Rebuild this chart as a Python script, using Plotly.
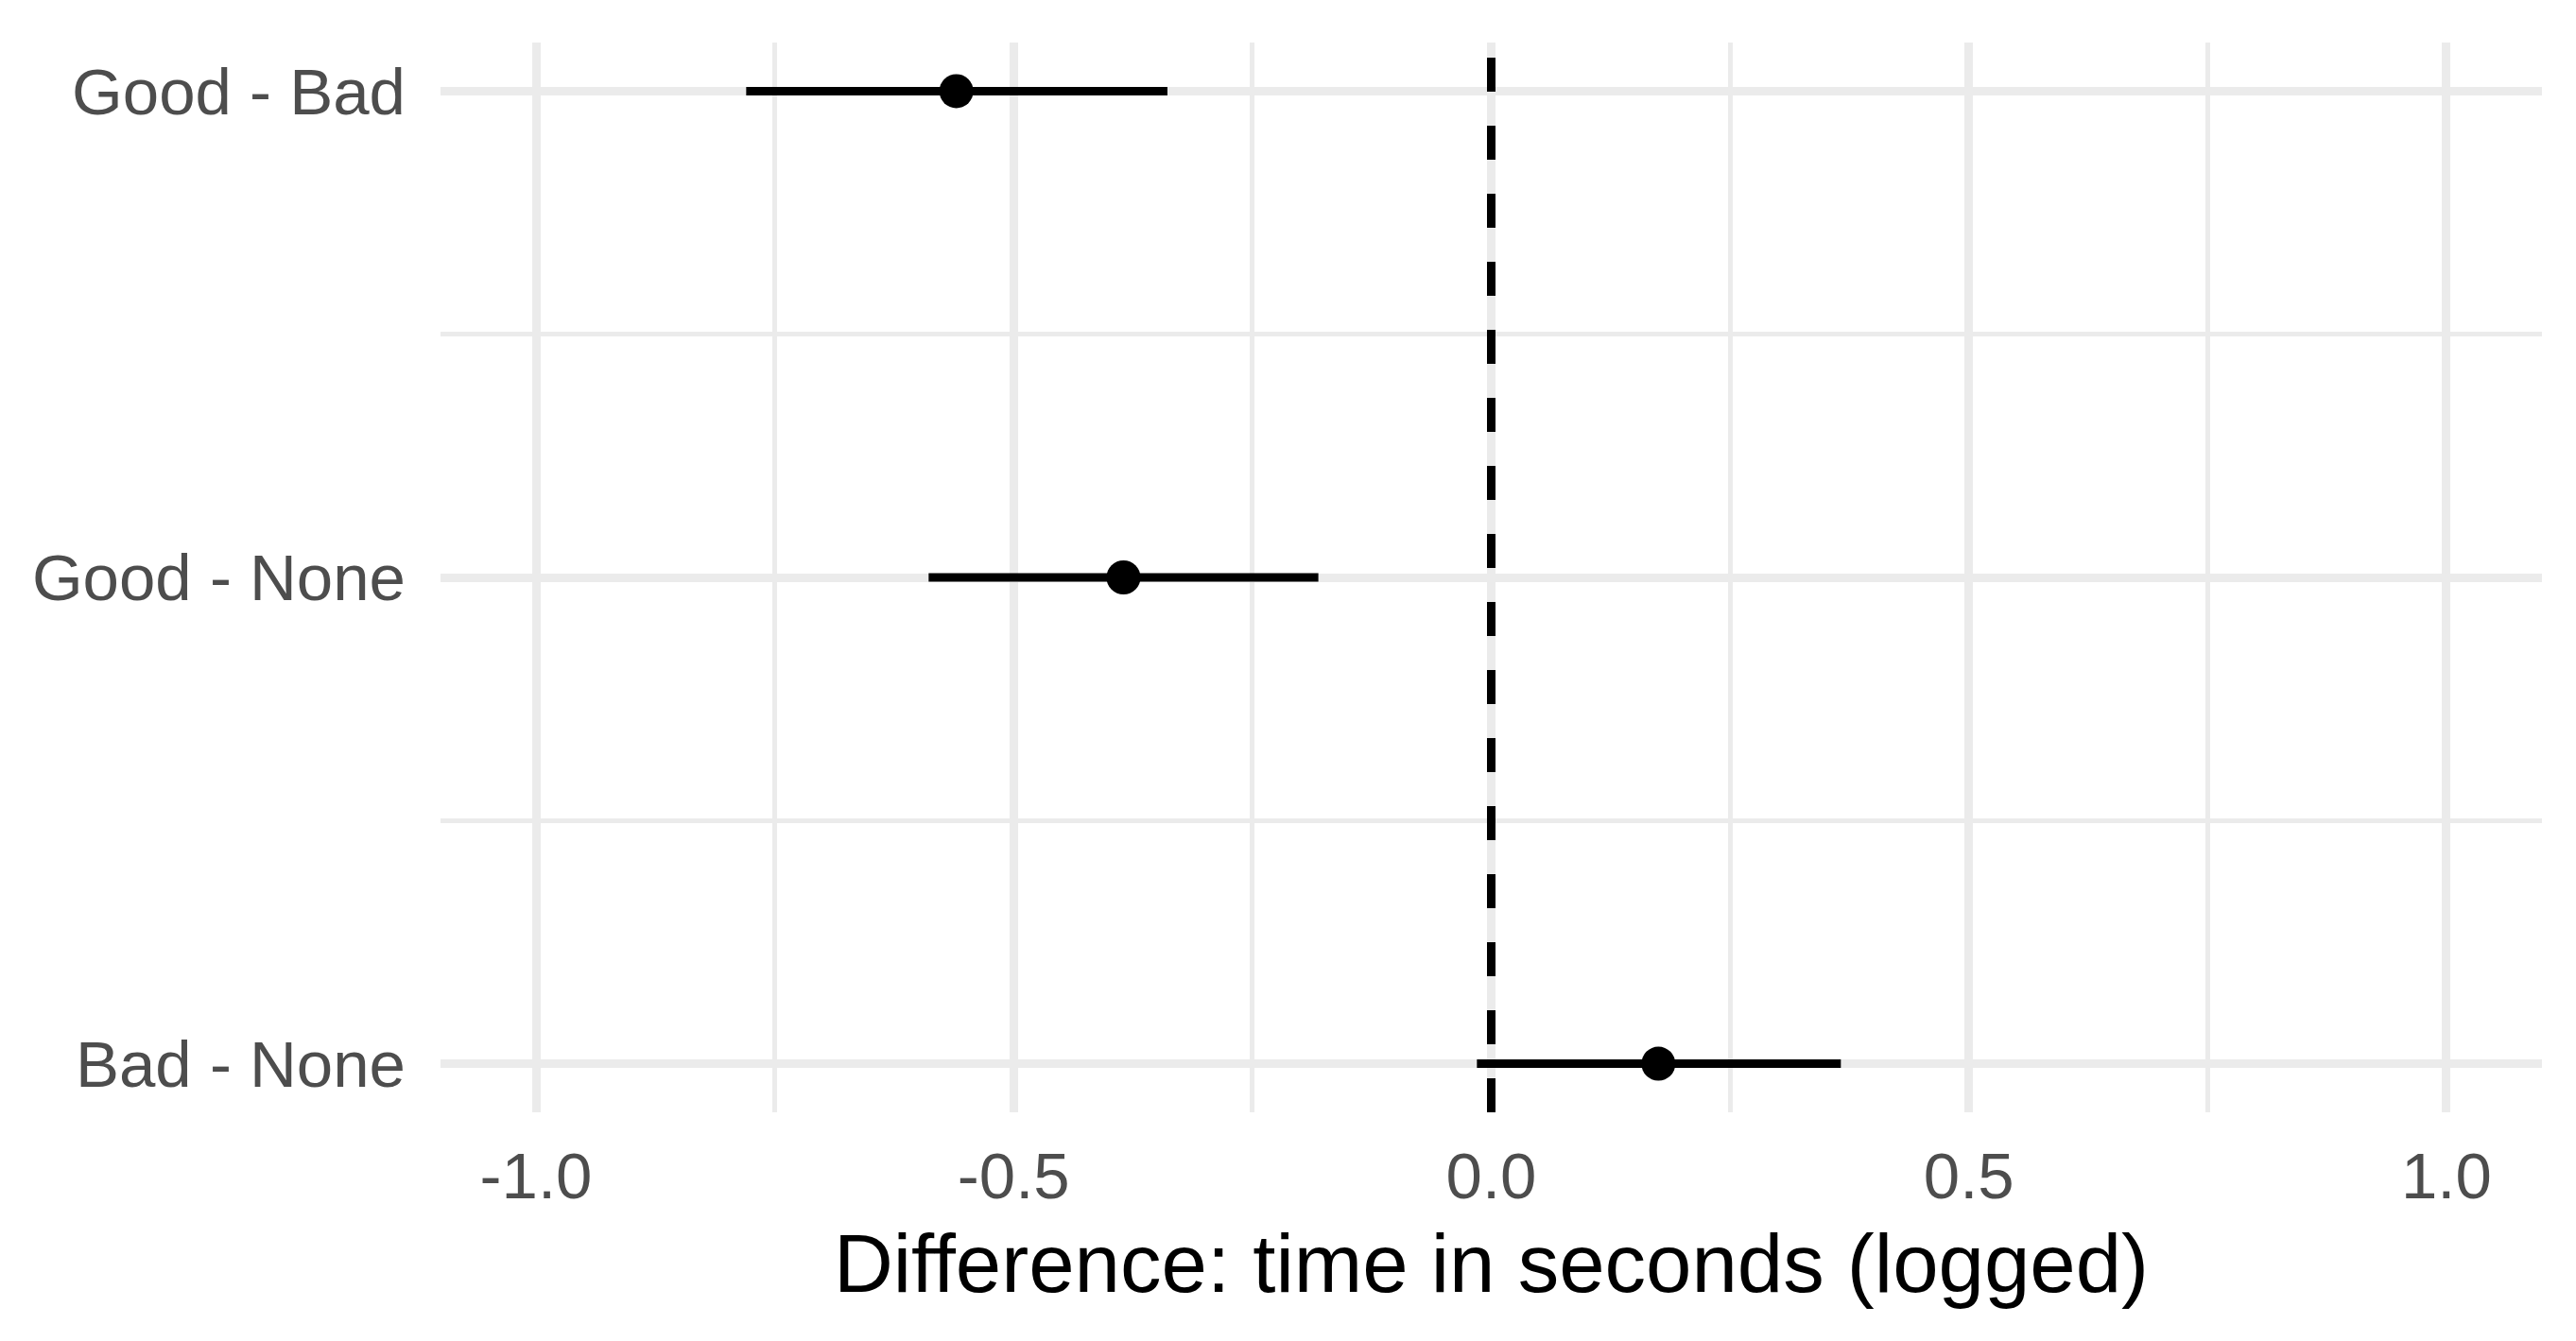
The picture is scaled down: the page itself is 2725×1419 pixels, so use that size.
import plotly.graph_objects as go

# Pairwise contrasts (estimate and 95% interval)
contrasts = ['Good - Bad', 'Good - None', 'Bad - None']
estimate = [-0.560, -0.385, 0.175]
lower = [-0.780, -0.589, -0.015]
upper = [-0.339, -0.181, 0.366]

x_ticks = [-1.0, -0.5, 0.0, 0.5, 1.0]
x_tick_labels = ['-1.0', '-0.5', '0.0', '0.5', '1.0']
x_minor = [-0.75, -0.25, 0.25, 0.75]

ypos = list(range(len(contrasts)))
err_plus = [u - e for u, e in zip(upper, estimate)]
err_minus = [e - l for e, l in zip(estimate, lower)]

grid = '#EBEBEB'
font_family = 'Liberation Sans, Arial, Helvetica, sans-serif'

fig = go.Figure()

# reference line at zero
fig.add_vline(x=0, line_dash='36px,36px', line_color='black', line_width=9)

fig.add_trace(go.Scatter(
    x=estimate,
    y=ypos,
    mode='markers',
    marker=dict(color='black', size=36),
    error_x=dict(type='data', symmetric=False, array=err_plus,
                 arrayminus=err_minus, color='black', thickness=9, width=0),
    showlegend=False,
    hoverinfo='skip',
))

# the page body has an 8px margin, so the figure is a little smaller
fig.update_layout(
    width=2709,
    height=1403,
    margin=dict(l=458, r=28, t=37, b=234),
    plot_bgcolor='white',
    paper_bgcolor='white',
    font=dict(family=font_family, color='black'),
    showlegend=False,
)

fig.update_xaxes(
    range=[-1.1, 1.1],
    tickvals=x_ticks,
    ticktext=x_tick_labels,
    tickfont=dict(size=69, color='#4D4D4D'),
    ticks='',
    ticklabelstandoff=21,
    showgrid=True,
    gridcolor=grid,
    gridwidth=9,
    zeroline=False,
    showline=False,
    minor=dict(tickvals=x_minor, showgrid=True, gridcolor=grid, gridwidth=5),
    title=dict(text='Difference: time in seconds (logged)',
               font=dict(size=87, color='black'), standoff=24),
)

fig.update_yaxes(
    range=[2.1, -0.1],
    tickvals=ypos,
    ticktext=contrasts,
    tickfont=dict(size=69, color='#4D4D4D'),
    ticks='',
    ticklabelstandoff=36,
    showgrid=True,
    gridcolor=grid,
    gridwidth=9,
    zeroline=False,
    showline=False,
    minor=dict(tickvals=[0.5, 1.5], showgrid=True, gridcolor=grid, gridwidth=5),
)

fig.write_html('out.html')
